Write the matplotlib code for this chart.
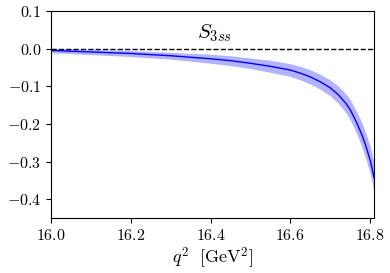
import matplotlib
matplotlib.use("Agg")
import matplotlib.pyplot as plt

# S_3ss central value and half-width of the band
q2 = [16.00, 16.10, 16.20, 16.30, 16.40, 16.45, 16.50, 16.55, 16.60, 16.625,
      16.65, 16.675, 16.70, 16.72, 16.74, 16.75, 16.76, 16.77, 16.78, 16.79,
      16.80, 16.805, 16.81]
s3_central = [-0.005, -0.009, -0.013, -0.019, -0.027, -0.032, -0.039, -0.047,
              -0.057, -0.065, -0.075, -0.088, -0.104, -0.122, -0.146, -0.162,
              -0.182, -0.205, -0.230, -0.260, -0.295, -0.317, -0.342]
s3_halfwidth = [0.006, 0.007, 0.008, 0.009, 0.012, 0.013, 0.014, 0.016, 0.017,
                0.018, 0.019, 0.020, 0.021, 0.023, 0.025, 0.027, 0.028, 0.030,
                0.032, 0.034, 0.036, 0.038, 0.040]
s3_lower = [c - h for c, h in zip(s3_central, s3_halfwidth)]
s3_upper = [c + h for c, h in zip(s3_central, s3_halfwidth)]

xticks = [16.0, 16.2, 16.4, 16.6, 16.8]
yticks = [-0.4, -0.3, -0.2, -0.1, 0.0, 0.1]

plt.rcParams["mathtext.fontset"] = "cm"
plt.rcParams["font.family"] = "serif"
plt.rcParams["font.serif"] = ["cmr10"]

fig = plt.figure(figsize=(3.9, 2.73), dpi=100)
ax = fig.add_axes([0.131, 0.201, 0.828, 0.759])

ax.fill_between(q2, s3_lower, s3_upper, color="#0000ff", alpha=0.3, linewidth=0)
ax.plot(q2, s3_central, color="#0000ff", lw=1.0)
ax.axhline(0.0, color="black", ls="--", lw=1.0)

ax.text(16.41, 0.042, r"$S_{3ss}$", fontsize=15, ha="center", va="center")

ax.set_xlim(16.0, 16.81)
ax.set_ylim(-0.45, 0.1)
ax.set_xticks(xticks)
ax.set_yticks(yticks)
ax.set_xticklabels([f"${t:.1f}$" for t in xticks])
ax.set_yticklabels([f"${t:.1f}$" for t in yticks])
ax.tick_params(labelsize=11.5)
ax.set_xlabel(r"$q^2\ \ [\mathrm{GeV}^2]$", fontsize=13, labelpad=2)

fig.savefig("out.png", dpi=100)
